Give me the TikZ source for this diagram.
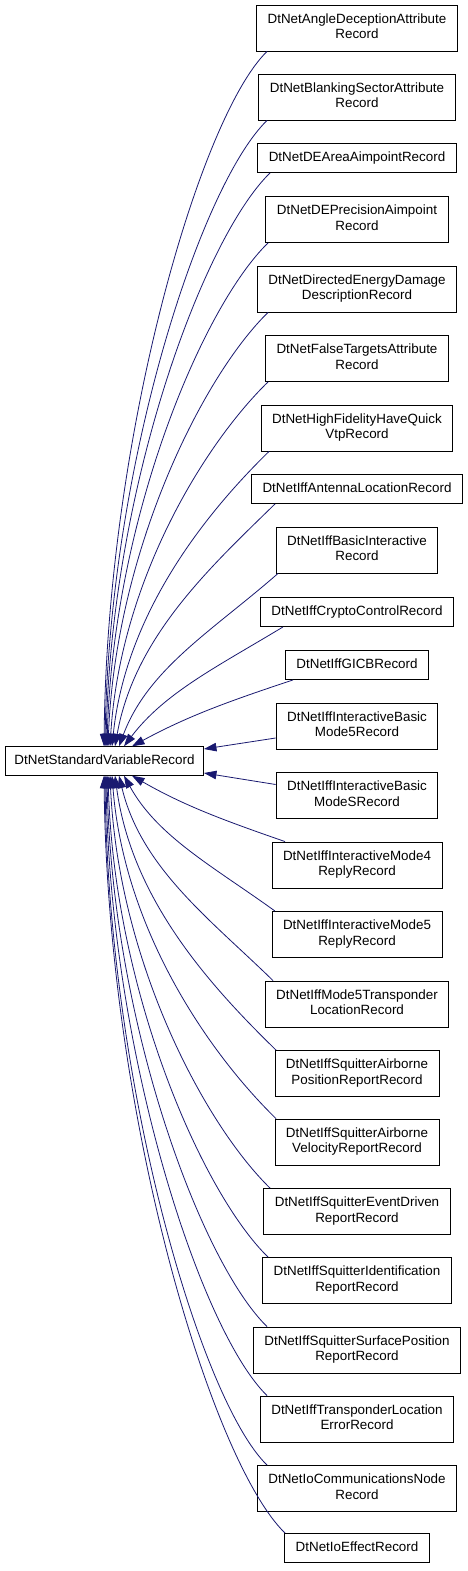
\documentclass[tikz,border=0pt]{standalone}
\usepackage{fontspec}
\setmainfont{Liberation Sans}
\usetikzlibrary{arrows.meta,calc}
\definecolor{mblue}{RGB}{25,25,112}
\tikzset{
  box/.style={draw=black, fill=white, line width=0.9pt, inner xsep=11pt, inner ysep=0pt,
    align=center, font=\fontsize{13.4}{15.5}\selectfont},
  two/.style={box, minimum height=46pt},
  one/.style={box, minimum height=29pt},
  edge/.style={draw=mblue, line width=0.8pt, -{Triangle[length=12.5pt,width=8.5pt]}}
}
\newcommand\upedge[3]{\draw[edge] let \p1=(#2,0 |- #1.south), \p2=(#3,0 |- P.north),
  \n1={\x1-\x2}, \n2={\y1-\y2}, \n3={\n1/100}, \n4={\n2/100} in
  (\p1) .. controls ({\x1-0.41*\n1*1pt},{\y1-min(0.4*\n1,0.33*\n2)*1pt})
  and ({\x2+0.4*\n1*\n3*\n3/(\n3*\n3+\n4*\n4)*1pt},{\y2+0.45*\n2*1pt}) .. (\p2);}
\newcommand\downedge[3]{\draw[edge] let \p1=(#2,0 |- #1.north), \p2=(#3,0 |- P.south),
  \n1={\x1-\x2}, \n2={\y2-\y1}, \n3={\n1/100}, \n4={\n2/100} in
  (\p1) .. controls ({\x1-0.41*\n1*1pt},{\y1+min(0.4*\n1,0.33*\n2)*1pt})
  and ({\x2+0.4*\n1*\n3*\n3/(\n3*\n3+\n4*\n4)*1pt},{\y2-0.45*\n2*1pt}) .. (\p2);}
\begin{document}
\begin{tikzpicture}[x=1pt,y=-1pt]
\fill[white] (0,0) rectangle (467,1571);
\useasboundingbox (0,0) rectangle (467,1571);
\node[one, inner xsep=9pt, minimum height=28.5pt] (P) at (104.5,761) {\strut DtNetStandardVariableRecord};
\node[two] (c1) at (357,28) {\strut DtNetAngleDeceptionAttribute\\\strut Record};
\node[two] (c2) at (357,97) {\strut DtNetBlankingSectorAttribute\\\strut Record};
\node[one] (c3) at (357,158) {\strut DtNetDEAreaAimpointRecord};
\node[two] (c4) at (357,219.5) {\strut DtNetDEPrecisionAimpoint\\\strut Record};
\node[two] (c5) at (357,289) {\strut DtNetDirectedEnergyDamage\\\strut DescriptionRecord};
\node[two] (c6) at (357,358.5) {\strut DtNetFalseTargetsAttribute\\\strut Record};
\node[two] (c7) at (357,428) {\strut DtNetHighFidelityHaveQuick\\\strut VtpRecord};
\node[one] (c8) at (357,489) {\strut DtNetIffAntennaLocationRecord};
\node[two] (c9) at (357,550) {\strut DtNetIffBasicInteractive\\\strut Record};
\node[one] (c10) at (357,612) {\strut DtNetIffCryptoControlRecord};
\node[one] (c11) at (357,665) {\strut DtNetIffGICBRecord};
\node[two] (c12) at (357,726) {\strut DtNetIffInteractiveBasic\\\strut Mode5Record};
\node[two] (c13) at (357,795.5) {\strut DtNetIffInteractiveBasic\\\strut ModeSRecord};
\node[two] (c14) at (357,865) {\strut DtNetIffInteractiveMode4\\\strut ReplyRecord};
\node[two] (c15) at (357,934.5) {\strut DtNetIffInteractiveMode5\\\strut ReplyRecord};
\node[two] (c16) at (357,1004) {\strut DtNetIffMode5Transponder\\\strut LocationRecord};
\node[two] (c17) at (357,1073.5) {\strut DtNetIffSquitterAirborne\\\strut PositionReportRecord};
\node[two] (c18) at (357,1142) {\strut DtNetIffSquitterAirborne\\\strut VelocityReportRecord};
\node[two] (c19) at (357,1211.5) {\strut DtNetIffSquitterEventDriven\\\strut ReportRecord};
\node[two] (c20) at (357,1280.5) {\strut DtNetIffSquitterIdentification\\\strut ReportRecord};
\node[two] (c21) at (357,1350) {\strut DtNetIffSquitterSurfacePosition\\\strut ReportRecord};
\node[two] (c22) at (357,1419) {\strut DtNetIffTransponderLocation\\\strut ErrorRecord};
\node[two] (c23) at (357,1488.5) {\strut DtNetIoCommunicationsNode\\\strut Record};
\node[one] (c24) at (357,1548) {\strut DtNetIoEffectRecord};
% upper edges
\upedge{c1}{267}{104}
\upedge{c2}{267}{105}
\upedge{c3}{270}{106}
\upedge{c4}{268}{107}
\upedge{c5}{268}{108}
\upedge{c6}{268}{110}
\upedge{c7}{269}{112}
\upedge{c8}{275}{115}
\upedge{c9}{278}{119}
\upedge{c10}{283}{124}
\upedge{c11}{293}{132}
% middle edges
\draw[edge] ([yshift=-12pt]c12.west) -- ([yshift=12pt]P.east);
\draw[edge] ([yshift=11pt]c13.west) -- ([yshift=-12pt]P.east);
% lower edges
\downedge{c14}{285}{132}
\downedge{c15}{275}{124}
\downedge{c16}{273}{119}
\downedge{c17}{276}{115}
\downedge{c18}{276}{112}
\downedge{c19}{270}{110}
\downedge{c20}{268}{108}
\downedge{c21}{267}{107}
\downedge{c22}{267}{106}
\downedge{c23}{267}{105}
\downedge{c24}{285}{104}
\end{tikzpicture}
\end{document}
